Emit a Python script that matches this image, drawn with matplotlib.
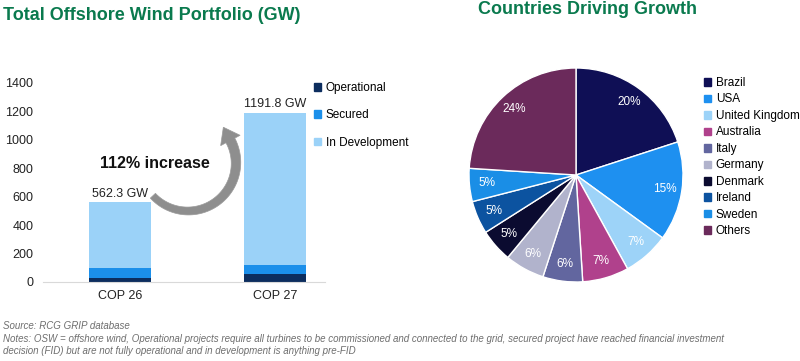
import matplotlib
matplotlib.use("Agg")
import numpy as np
import matplotlib.pyplot as plt
from matplotlib.patches import Patch, Polygon
from matplotlib.transforms import IdentityTransform

# ---- data ----
cop_labels = ["COP 26", "COP 27"]
operational = [30, 54]
secured = [66, 67]
in_development = [466.3, 1070.8]
totals = [562.3, 1191.8]
total_labels = ["562.3 GW", "1191.8 GW"]
bar_series = ["Operational", "Secured", "In Development"]
bar_colors = ["#0C2D5E", "#1B8FEA", "#9BD2F8"]
y_ticks = [0, 200, 400, 600, 800, 1000, 1200, 1400]

countries = ["Brazil", "USA", "United Kingdom", "Australia", "Italy",
             "Germany", "Denmark", "Ireland", "Sweden", "Others"]
shares = [20, 15, 7, 7, 6, 6, 5, 5, 5, 24]
pie_colors = ["#0F0F55", "#1E90F0", "#9DD3F8", "#B0418C", "#62669F",
              "#B1B3CC", "#0B0B30", "#0C53A0", "#1A8EE6", "#6B2A5B"]

W, H = 800, 361
fig = plt.figure(figsize=(W / 100, H / 100), dpi=100)
fig.patch.set_facecolor("white")
FONT = ["Liberation Sans", "DejaVu Sans"]
plt.rcParams["font.family"] = FONT
GREEN = "#0A7A4E"

def fx(px):
    return px / W

def fy(py):
    return 1 - py / H

# ---- bar chart ----
ax = fig.add_axes([fx(43), fy(282), fx(325) - fx(43), fy(83) - fy(282)])
x = [0, 1]
bw = 0.4
ax.bar(x, operational, bw, color=bar_colors[0], label=bar_series[0])
ax.bar(x, secured, bw, bottom=operational, color=bar_colors[1], label=bar_series[1])
bott = [o + s for o, s in zip(operational, secured)]
ax.bar(x, in_development, bw, bottom=bott, color=bar_colors[2], label=bar_series[2])
ax.set_xlim(-0.497, 1.322)
ax.set_ylim(0, 1400)
ax.set_yticks(y_ticks)
ax.set_xticks(x)
ax.set_xticklabels(cop_labels)
ax.tick_params(axis="both", length=0, labelsize=9, colors="#222222")
ax.tick_params(axis="y", pad=7)
ax.tick_params(axis="x", pad=6)
for s in ["top", "right", "left"]:
    ax.spines[s].set_visible(False)
ax.spines["bottom"].set_color("#D9D9D9")
for xi, t, lab in zip(x, totals, total_labels):
    ax.text(xi, t + 15, lab, ha="center", va="bottom", fontsize=9, color="#222222")

handles = [Patch(color=c) for c in bar_colors]
fig.legend(handles, bar_series, loc="upper left", bbox_to_anchor=(fx(314), fy(82)),
           frameon=False, fontsize=8.5, handlelength=0.6, handleheight=0.6,
           handletextpad=0.4, labelspacing=1.3, borderaxespad=0, borderpad=0)

# curved arrow built as a polygon in pixel coordinates (y down, then flipped)
cx, cy, rad = 188.0, 163.0, 48.0
th = np.radians(np.linspace(137, -28, 90))
wid = np.linspace(7, 10, th.size)
outer = np.c_[cx + (rad + wid / 2) * np.cos(th), cy + (rad + wid / 2) * np.sin(th)]
inner = np.c_[cx + (rad - wid / 2) * np.cos(th), cy + (rad - wid / 2) * np.sin(th)]
t_end = th[-1]
base = np.array([cx + rad * np.cos(t_end), cy + rad * np.sin(t_end)])
direc = np.array([np.sin(t_end), -np.cos(t_end)])
normal = np.array([np.cos(t_end), np.sin(t_end)])
tip = base + 15 * direc
h1 = base + 11 * normal
h2 = base - 11 * normal
pts = np.vstack([outer, h1, tip, h2, inner[::-1]])
pts_disp = np.c_[pts[:, 0], H - pts[:, 1]]
fig.patches.append(Polygon(pts_disp, closed=True, transform=IdentityTransform(),
                           facecolor="#8E8E8E", edgecolor="#9A9A9A", lw=0.5))

fig.text(fx(155), fy(163), "112% increase", ha="center", va="center",
         fontsize=11.5, fontweight="bold", color="#111111")

# ---- pie ----
pax = fig.add_axes([fx(469), fy(282), fx(214), fy(0) - fy(214)])
wedges, texts, autotexts = pax.pie(
    shares, colors=pie_colors, startangle=90, counterclock=False,
    autopct="%d%%", pctdistance=0.84,
    wedgeprops=dict(edgecolor="white", linewidth=1),
    textprops=dict(color="white", fontsize=8.5))
pax.set_xlim(-1, 1)
pax.set_ylim(-1, 1)
pax.set_aspect("equal")

handles2 = [Patch(color=c) for c in pie_colors]
fig.legend(handles2, countries, loc="upper left", bbox_to_anchor=(fx(704), fy(77)),
           frameon=False, fontsize=8.5, handlelength=0.6, handleheight=0.6,
           handletextpad=0.4, labelspacing=0.38, borderaxespad=0, borderpad=0)

# ---- titles ----
fig.text(fx(3), fy(16), "Total Offshore Wind Portfolio (GW)", ha="left", va="center",
         fontsize=13, fontweight="bold", color=GREEN)
fig.text(fx(478), fy(10), "Countries Driving Growth", ha="left", va="center",
         fontsize=13, fontweight="bold", color=GREEN)

# ---- footer ----
NARROW = ["Liberation Sans Narrow", "Liberation Sans", "DejaVu Sans"]
foot = [
    "Source: RCG GRIP database",
    "Notes: OSW = offshore wind, Operational projects require all turbines to be commissioned and connected to the grid, secured project have reached financial investment",
    "decision (FID) but are not fully operational and in development is anything pre-FID",
]
for i, line in enumerate(foot):
    fig.text(fx(3), fy(326 + i * 12.5), line, ha="left", va="center",
             fontsize=7, style="italic", color="#6E6E6E", family=NARROW)

fig.savefig("out.png", dpi=100, facecolor="white")
